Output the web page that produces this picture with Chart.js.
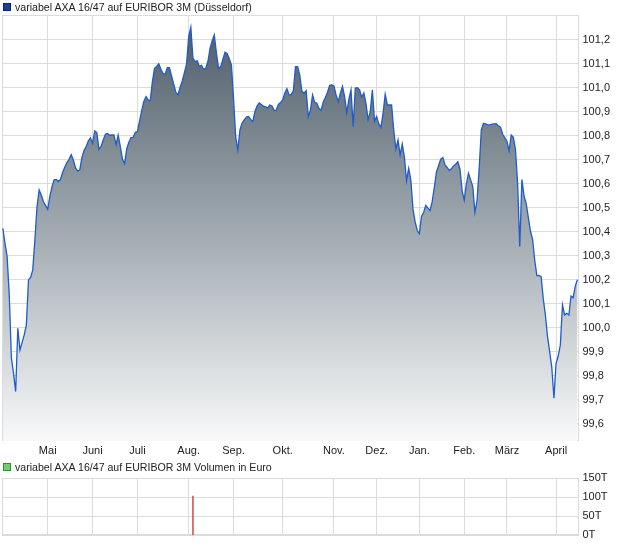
<!DOCTYPE html>
<html><head><meta charset="utf-8">
<script src="https://cdn.jsdelivr.net/npm/chart.js@4.4.1/dist/chart.umd.min.js"></script>
<style>
html,body{margin:0;padding:0;background:#fff;}
#wrap{position:relative;width:620px;height:546px;overflow:hidden;font-family:"Liberation Sans",Arial,sans-serif;}
canvas{position:absolute;left:0;}
.lg{position:absolute;left:0;height:14px;font-size:10.6px;color:#222;white-space:nowrap;z-index:2;}
.sq{position:absolute;left:3px;top:2px;width:6px;height:6px;}
.tx{position:absolute;left:15px;top:0;line-height:13px;}
</style></head>
<body><div id="wrap">
<div class="lg" style="top:1px"><div class="sq" style="background:#1c3f9a;border:1px solid #0b246e"></div><div class="tx">variabel AXA 16/47 auf EURIBOR 3M (Düsseldorf)</div></div>
<canvas id="c1" width="620" height="460" style="top:0"></canvas>
<div class="lg" style="top:461px"><div class="sq" style="background:#6fcf6f;border:1px solid #3a8a3a"></div><div class="tx">variabel AXA 16/47 auf EURIBOR 3M Volumen in Euro</div></div>
<canvas id="c2" width="620" height="86" style="top:460px"></canvas>
</div>
<script>
// trading-day index of the first trading day of each month
const monthIdx = [21, 42, 63, 87, 108, 131, 155, 175, 195, 216, 236, 259];
const monthLabels = ['Mai','Juni','Juli','Aug.','Sep.','Okt.','Nov.','Dez.','Jan.','Feb.','März','April'];
const yTicks = [99.6,99.7,99.8,99.9,100.0,100.1,100.2,100.3,100.4,100.5,100.6,100.7,100.8,100.9,101.0,101.1,101.2];
// daily prices (one per trading day)
const prices = [
100.415,100.353,100.297,100.138,99.874,99.811,99.735,99.999,99.908,99.939,
99.971,100.013,100.200,100.211,100.242,100.367,100.506,100.575,100.554,100.526,
100.510,100.494,100.547,100.589,100.617,100.619,100.610,100.619,100.649,100.671,
100.689,100.703,100.722,100.700,100.668,100.654,100.658,100.710,100.739,100.756,
100.779,100.792,100.769,100.821,100.814,100.744,100.757,100.783,100.807,100.810,
100.803,100.804,100.804,100.764,100.804,100.756,100.703,100.685,100.747,100.774,
100.793,100.794,100.815,100.818,100.862,100.906,100.944,100.964,100.950,100.947,
101.025,101.082,101.090,101.101,101.078,101.060,101.058,101.085,101.085,101.049,
101.015,100.981,100.972,101.003,101.029,101.064,101.100,101.214,101.253,101.124,
101.110,101.113,101.090,101.094,101.078,101.082,101.110,101.165,101.197,101.221,
101.144,101.082,101.089,101.119,101.149,101.144,101.122,101.096,100.957,100.797,
100.742,100.825,100.854,100.867,100.879,100.881,100.869,100.860,100.901,100.925,
100.938,100.931,100.924,100.921,100.917,100.929,100.925,100.907,100.908,100.932,
100.939,100.950,100.979,100.997,100.971,100.972,100.988,101.089,101.089,101.054,
100.986,100.978,100.989,100.881,100.908,100.971,100.940,100.936,100.914,100.907,
100.942,100.960,100.982,101.011,101.013,101.008,100.971,100.943,100.978,101.007,
100.964,100.897,100.953,100.992,100.839,101.000,101.001,100.992,100.961,100.979,
100.936,100.867,100.901,100.992,100.862,100.881,100.850,100.836,100.894,100.974,
100.929,100.929,100.929,100.825,100.746,100.783,100.721,100.767,100.711,100.614,
100.665,100.617,100.496,100.443,100.406,100.393,100.465,100.481,100.511,100.499,
100.489,100.526,100.586,100.650,100.676,100.703,100.710,100.679,100.669,100.656,
100.663,100.675,100.682,100.692,100.663,100.572,100.533,100.600,100.644,100.617,
100.589,100.482,100.531,100.665,100.825,100.853,100.850,100.846,100.846,100.849,
100.850,100.851,100.842,100.836,100.807,100.792,100.778,100.738,100.804,100.794,
100.742,100.603,100.339,100.619,100.550,100.519,100.461,100.404,100.369,100.283,
100.218,100.219,100.214,100.122,100.054,99.964,99.900,99.835,99.707,99.853,
99.883,99.929,100.096,100.054,100.061,100.054,100.133,100.126,100.175,100.201
];
const volIdx = [89];
const volValues = [103000];
const volTicks = [0, 50000, 100000, 150000];

const GRID = '#dcdcdc';
const FONT = {family:'"Liberation Sans", Arial, sans-serif', size:11};
const TXT = '#222';

const boxPlugin = {
  id:'box',
  beforeDatasetsDraw(chart){
    const a = chart.chartArea, c = chart.ctx;
    c.save(); c.strokeStyle = GRID; c.lineWidth = 1;
    c.strokeRect(Math.round(a.left)+0.5, Math.round(a.top)+0.5, Math.round(a.right)-Math.round(a.left)-1, Math.round(a.bottom)-Math.round(a.top)-1);
    c.restore();
  }
};

function xScale(showLabels, h){
  return {
    type:'linear', min:-0.4, max:269.5, offset:false,
    afterBuildTicks(s){ s.ticks = monthIdx.map(v=>({value:v})); },
    afterFit(s){ s.height = h; },
    grid:{color:GRID, drawTicks:false, lineWidth:1, offset:false},
    border:{display:false},
    ticks:{display:showLabels, autoSkip:false, maxRotation:0, padding:3, font:FONT, color:TXT,
      callback(v){ const k = monthIdx.indexOf(v); return k>=0 ? monthLabels[k] : ''; }}
  };
}

const pts = prices.map((p,i)=>({x:i, y:p}));

new Chart(document.getElementById('c1'), {
  type:'line',
  data:{datasets:[{
    data:pts, borderColor:'#1f5cc9', borderWidth:1.3, pointRadius:0, tension:0,
    fill:'start',
    backgroundColor(ctx){
      const a = ctx.chart.chartArea; if(!a) return 'rgba(0,0,0,0)';
      const g = ctx.chart.ctx.createLinearGradient(0,a.top,0,a.bottom);
      g.addColorStop(0,'#4c5a66'); g.addColorStop(0.5,'#a0a9b0'); g.addColorStop(1,'#f8f9f9');
      return g;
    }
  }]},
  options:{
    responsive:false, animation:false, devicePixelRatio:1,
    layout:{padding:{left:2, top:15, right:0, bottom:0}},
    plugins:{legend:{display:false}, tooltip:{enabled:false}},
    scales:{
      x: xScale(true, 19),
      y:{type:'linear', position:'right', min:99.529, max:101.304,
        afterBuildTicks(s){ s.ticks = yTicks.map(v=>({value:v})); },
        afterFit(s){ s.width = 41.5; },
        grid:{color:GRID, drawTicks:false},
        border:{display:false},
        ticks:{padding:4, font:FONT, color:TXT, callback(v){ return v.toFixed(1).replace('.', ','); }}
      }
    }
  },
  plugins:[boxPlugin]
});

new Chart(document.getElementById('c2'), {
  type:'bar',
  data:{datasets:[{
    data: volIdx.map((d,i)=>({x:d, y:volValues[i]})),
    backgroundColor:'#d45a5a', barThickness:1, borderWidth:0
  }]},
  options:{
    responsive:false, animation:false, devicePixelRatio:1,
    layout:{padding:{left:2, top:18, right:0, bottom:0}},
    plugins:{legend:{display:false}, tooltip:{enabled:false}},
    scales:{
      x: xScale(false, 9),
      y:{type:'linear', position:'right', min:0, max:150000,
        afterBuildTicks(s){ s.ticks = volTicks.map(v=>({value:v})); },
        afterFit(s){ s.width = 41.5; },
        grid:{color:GRID, drawTicks:false},
        border:{display:false},
        ticks:{padding:4, font:FONT, color:TXT, callback(v){ return (v/1000)+'T'; }}
      }
    }
  },
  plugins:[boxPlugin]
});
</script>
</body></html>
